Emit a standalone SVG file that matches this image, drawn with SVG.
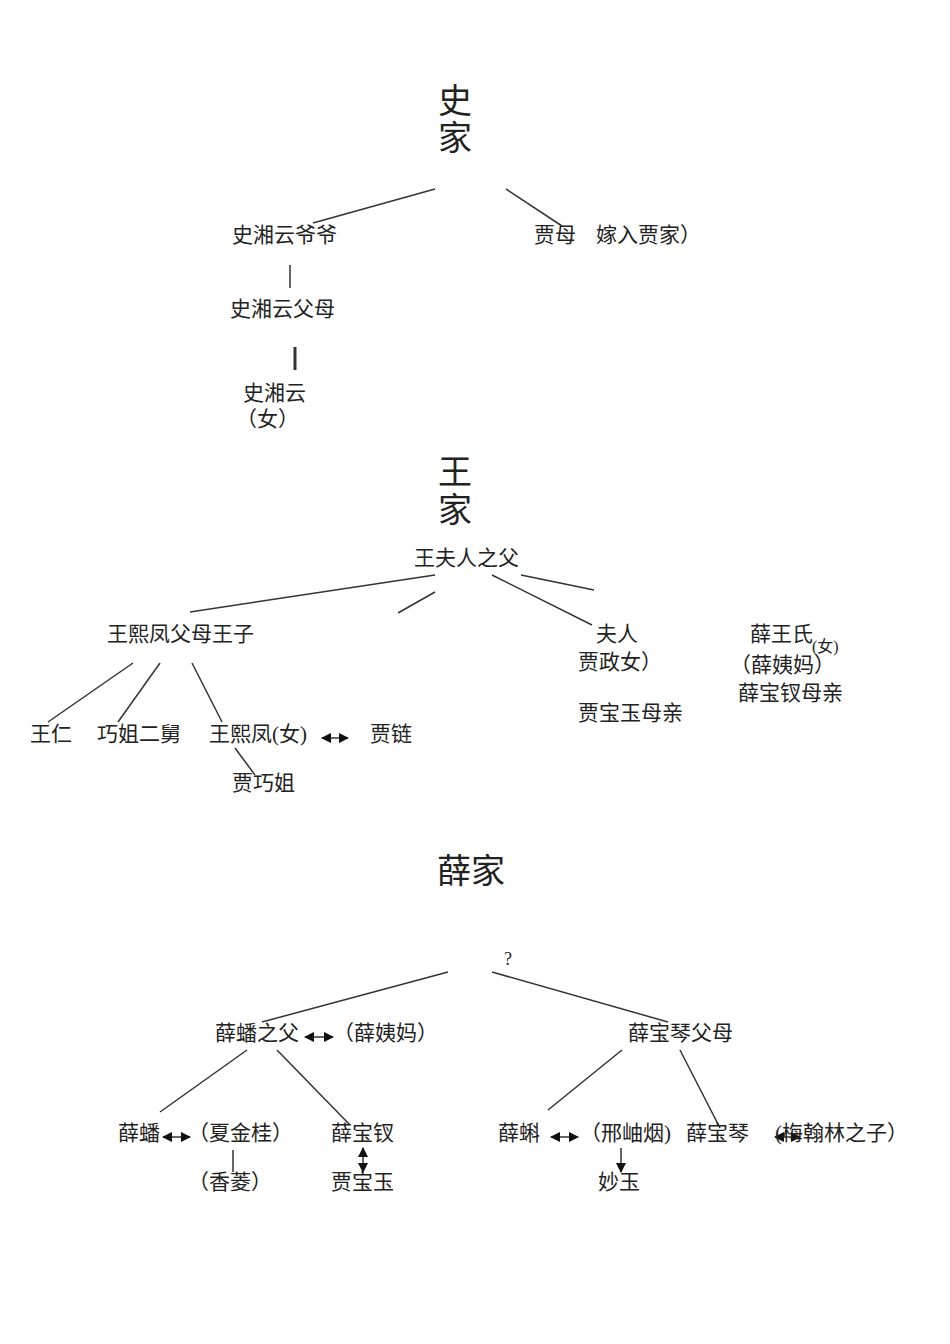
<svg xmlns="http://www.w3.org/2000/svg" width="950" height="1344" viewBox="0 0 950 1344">
<style>
text{font-family:"Liberation Serif","Noto Sans CJK SC",serif;font-size:21px;fill:#222}
.t{font-size:34px}
line{stroke:#333;stroke-width:1.5}
.a{marker-start:url(#h);marker-end:url(#h)}
</style>
<defs><marker id="h" viewBox="0 0 10 10" refX="9" refY="5" markerWidth="7" markerHeight="7" orient="auto-start-reverse"><path d="M0,0L10,5L0,10z" fill="#111"/></marker></defs>
<rect width="950" height="1344" fill="#fff"/>
<g id="connectors">
<line x1="435" y1="189" x2="313" y2="223"/><line x1="506" y1="189" x2="562" y2="226"/>
<line x1="290" y1="265" x2="290" y2="288"/><line x1="295" y1="347" x2="295" y2="370" style="stroke-width:3"/>
<line x1="435" y1="575" x2="190" y2="612"/><line x1="435" y1="592" x2="398" y2="613"/>
<line x1="492" y1="575" x2="592" y2="625"/><line x1="521" y1="575" x2="594" y2="590"/>
<line x1="133" y1="663" x2="48" y2="722"/><line x1="160" y1="663" x2="118" y2="722"/><line x1="192" y1="663" x2="222" y2="722"/>
<line x1="235" y1="748" x2="255" y2="775"/>
<line x1="322" y1="738" x2="348" y2="738" class="a"/>
<line x1="448" y1="972" x2="262" y2="1022"/><line x1="492" y1="972" x2="668" y2="1022"/>
<line x1="305" y1="1037" x2="333" y2="1037" class="a"/>
<line x1="247" y1="1050" x2="160" y2="1112"/><line x1="277" y1="1050" x2="350" y2="1125"/>
<line x1="680" y1="1050" x2="720" y2="1128"/><line x1="622" y1="1050" x2="548" y2="1110"/>
<line x1="163" y1="1137" x2="190" y2="1137" class="a"/>
<line x1="233" y1="1150" x2="233" y2="1172"/>
<line x1="363" y1="1148" x2="363" y2="1172" class="a"/>
<line x1="551" y1="1137" x2="578" y2="1137" class="a"/>
<line x1="621" y1="1148" x2="621" y2="1172" style="marker-end:url(#h)"/>
<line x1="775" y1="1137" x2="800" y2="1137" class="a"/>
</g>
<g id="shi"><text class="t" x="438" y="113">史</text><text class="t" x="438" y="150">家</text></g>
<g id="n1"><text x="232" y="242">史湘云爷爷</text></g>
<g id="n2"><text x="534" y="242">贾母</text><text x="596" y="242">嫁入贾家）</text></g>
<g id="n3"><text x="230" y="316">史湘云父母</text></g>
<g id="n4"><text x="243" y="400">史湘云</text><text x="236" y="426">（女）</text></g>
<g id="wang"><text class="t" x="438" y="484">王</text><text class="t" x="438" y="522">家</text></g>
<g id="w1"><text x="414" y="565">王夫人之父</text></g>
<g id="w2"><text x="107" y="641">王熙凤父母王子</text></g>
<g id="w3"><text x="596" y="641">夫人</text><text x="578" y="669">贾政女）</text><text x="578" y="720">贾宝玉母亲</text></g>
<g id="w4"><text x="750" y="641">薛王氏</text><text x="730" y="672">（薛姨妈）</text><text x="812" y="652" style="font-size:16px">(女)</text><text x="738" y="700">薛宝钗母亲</text></g>
<g id="w5"><text x="30" y="741">王仁</text></g>
<g id="w6"><text x="97" y="741">巧姐二舅</text></g>
<g id="w7"><text x="209" y="741">王熙凤(女)</text></g>
<g id="w8"><text x="370" y="741">贾链</text></g>
<g id="w9"><text x="232" y="790">贾巧姐</text></g>
<g id="xue"><text class="t" x="437" y="883">薛家</text></g>
<g id="x0"><text x="504" y="965" style="font-size:18px">?</text></g>
<g id="x1"><text x="215" y="1040">薛蟠之父</text><text x="333" y="1040">（薛姨妈）</text></g>
<g id="x2"><text x="628" y="1040">薛宝琴父母</text></g>
<g id="x3"><text x="118" y="1140">薛蟠</text><text x="188" y="1140">（夏金桂）</text><text x="188" y="1189">（香菱）</text></g>
<g id="x4"><text x="331" y="1140">薛宝钗</text><text x="331" y="1189">贾宝玉</text></g>
<g id="x5"><text x="498" y="1140">薛蝌</text><text x="580" y="1140">（邢岫烟)</text><text x="598" y="1189">妙玉</text></g>
<g id="x6"><text x="686" y="1140">薛宝琴</text><text x="775" y="1140">(梅翰林之子）</text></g>
</svg>
